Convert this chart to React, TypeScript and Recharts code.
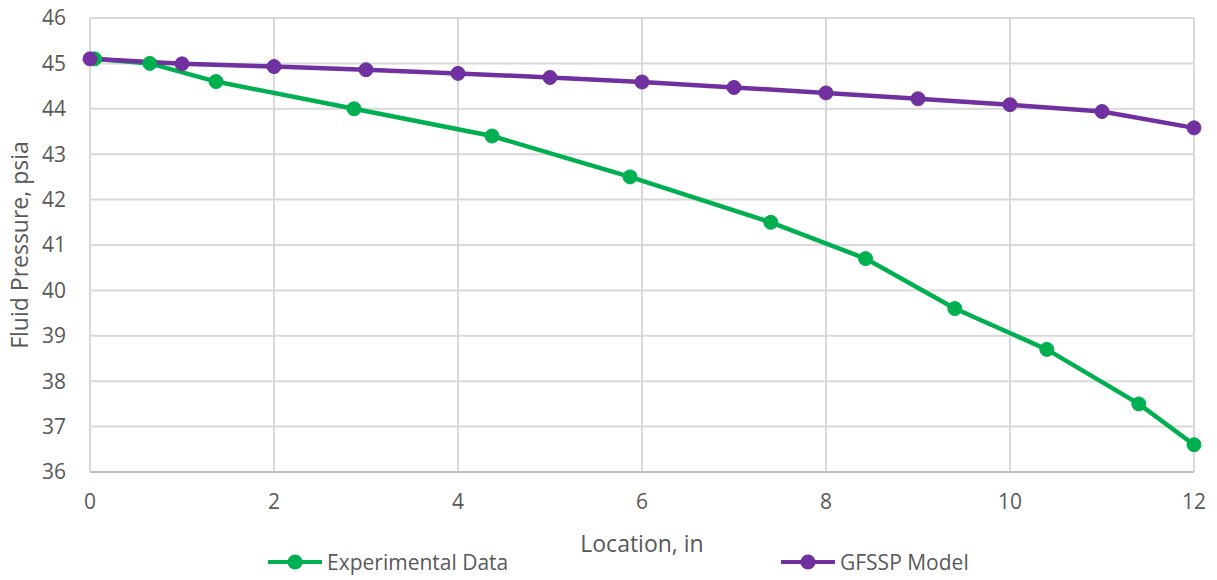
import React from 'react';
import { CartesianGrid, Label, Legend, Line, LineChart, XAxis, YAxis } from 'recharts';

// Experimental Data (green)
const expLocation = [0.05, 0.65, 1.37, 2.87, 4.37, 5.87, 7.4, 8.43, 9.4, 10.4, 11.4, 12];
const expPressure = [45.1, 45.0, 44.6, 44.0, 43.4, 42.5, 41.5, 40.7, 39.6, 38.7, 37.5, 36.6];

// GFSSP Model (purple)
const modelLocation = [0, 1, 2, 3, 4, 5, 6, 7, 8, 9, 10, 11, 12];
const modelPressure = [45.1, 44.99, 44.93, 44.86, 44.78, 44.69, 44.59, 44.47, 44.35, 44.22, 44.09, 43.94, 43.58];

const xTicks = [0, 2, 4, 6, 8, 10, 12];
const yTicks = [36, 37, 38, 39, 40, 41, 42, 43, 44, 45, 46];

const GREEN = '#00b050';
const PURPLE = '#7030a0';
const TEXT = '#595959';
const FONT = '"Open Sans", sans-serif';

const expData = expLocation.map((x, i) => ({ x, y: expPressure[i] }));
const modelData = modelLocation.map((x, i) => ({ x, y: modelPressure[i] }));

const legendItems = [
  { name: 'Experimental Data', color: GREEN, left: 268 },
  { name: 'GFSSP Model', color: PURPLE, left: 781 }
];

function ChartLegend() {
  return (
    <div style={{ position: 'relative', width: 1217, height: 32, fontFamily: FONT, fontSize: 21, color: TEXT }}>
      {legendItems.map((it) => (
        <div
          key={it.name}
          style={{ position: 'absolute', left: it.left, top: 0, height: 32, display: 'flex', alignItems: 'center' }}
        >
          <svg width={56} height={16} style={{ marginRight: 3 }}>
            <line x1={0} y1={8} x2={54} y2={8} stroke={it.color} strokeWidth={4} />
            <circle cx={27} cy={8} r={7.5} fill={it.color} />
          </svg>
          <span>{it.name}</span>
        </div>
      ))}
    </div>
  );
}

export default function App() {
  const tickStyle = { fill: TEXT, fontSize: 21, fontFamily: FONT };
  return (
    <div style={{ position: 'absolute', left: 0, top: 0, background: '#fff' }}>
      <LineChart width={1217} height={580} margin={{ top: 18, right: 23, left: 0, bottom: 2 }}>
        <CartesianGrid stroke="#d9d9d9" strokeWidth={2} />
        <XAxis
          type="number"
          dataKey="x"
          domain={[0, 12]}
          ticks={xTicks}
          tickLine={false}
          tickSize={0}
          tickMargin={22}
          height={74}
          axisLine={{ stroke: '#bfbfbf', strokeWidth: 2 }}
          tick={tickStyle}
        >
          <Label
            value="Location, in"
            position="insideBottom"
            offset={-6}
            style={{ fill: TEXT, fontSize: 23, fontFamily: FONT }}
          />
        </XAxis>
        <YAxis
          type="number"
          dataKey="y"
          domain={[36, 46]}
          ticks={yTicks}
          tickLine={false}
          tickSize={0}
          tickMargin={24}
          width={90}
          axisLine={{ stroke: '#d9d9d9', strokeWidth: 2 }}
          tick={tickStyle}
        >
          <Label
            value="Fluid Pressure, psia"
            angle={-90}
            position="insideLeft"
            offset={20}
            style={{ textAnchor: 'middle', fill: TEXT, fontSize: 23, fontFamily: FONT }}
          />
        </YAxis>
        <Legend verticalAlign="bottom" height={32} wrapperStyle={{ left: 0, width: 1217 }} content={<ChartLegend />} />
        <Line
          data={expData}
          dataKey="y"
          name="Experimental Data"
          stroke={GREEN}
          strokeWidth={4.5}
          dot={{ r: 7, fill: GREEN, stroke: GREEN, strokeWidth: 1 }}
          activeDot={false}
          isAnimationActive={false}
        />
        <Line
          data={modelData}
          dataKey="y"
          name="GFSSP Model"
          stroke={PURPLE}
          strokeWidth={4.5}
          dot={{ r: 7, fill: PURPLE, stroke: PURPLE, strokeWidth: 1 }}
          activeDot={false}
          isAnimationActive={false}
        />
      </LineChart>
    </div>
  );
}
